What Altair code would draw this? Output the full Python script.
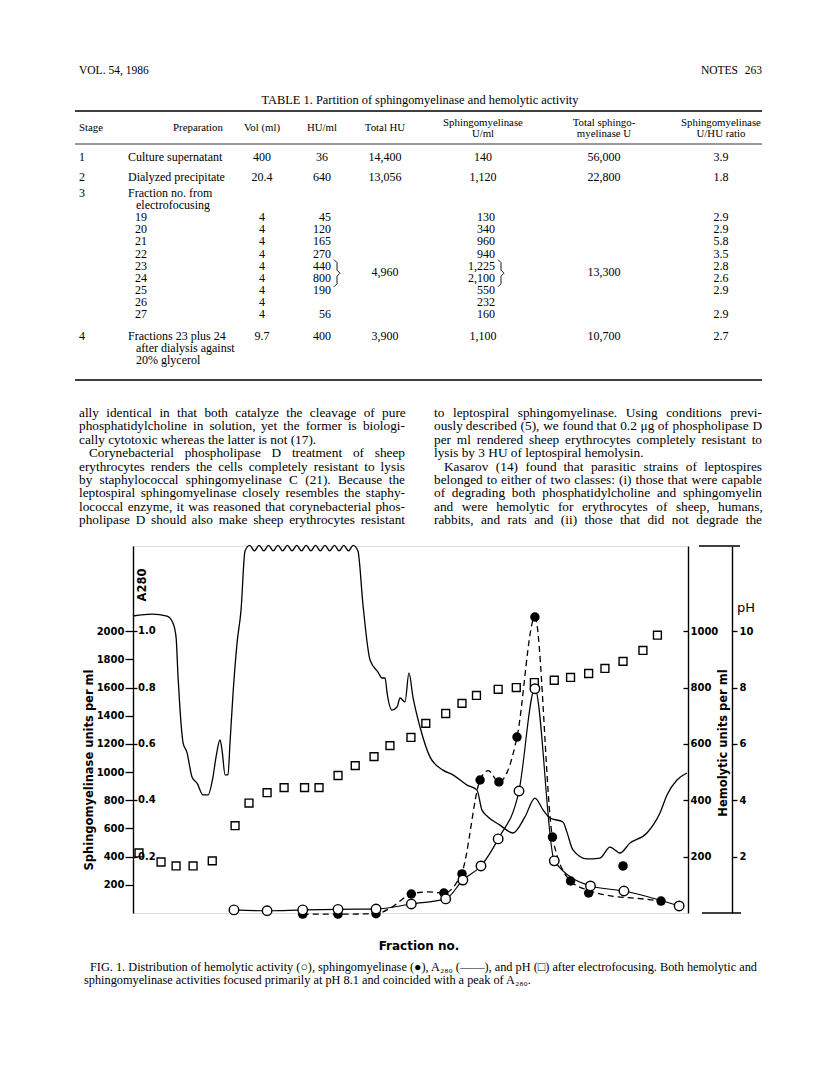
import altair as alt
import pandas as pd

# ---------------- figure data ----------------
ph_fraction = [2.05, 3.27, 4.1, 5.04, 6.1, 7.36, 8.13, 9.13, 10.07, 11.2, 12.0, 13.05, 14.0, 15.04, 15.92,
               17.08, 17.9, 19.0, 19.9, 20.7, 21.9, 22.9, 23.9, 25.0, 25.9, 26.9, 27.8, 28.8, 29.9, 30.7]
ph_value = [2.13, 1.81, 1.67, 1.67, 1.85, 3.1, 3.9, 4.27, 4.45, 4.45, 4.45, 4.88, 5.23, 5.55, 5.94,
            6.23, 6.73, 7.08, 7.44, 7.72, 7.94, 8.0, 8.18, 8.26, 8.36, 8.5, 8.68, 8.93, 9.32, 9.86]

sph_fraction = [11.1, 13.05, 15.15, 17.1, 18.9, 19.9, 20.9, 21.94, 22.94, 23.93, 24.9, 25.9, 26.9, 28.8, 30.9]
sph_value = [-8, -8, -5, 135, 142, 277, 944, 930, 1249, 2101, 539, 227, 142, 334, 85]

sph_curve_fraction = [11.1, 13.05, 15.15, 16.0, 17.1, 18.0, 18.9, 19.9, 20.9, 21.35, 21.94, 22.4, 22.94,
                      23.93, 24.9, 25.9, 26.9, 28.3, 29.5, 30.9]
sph_curve_value = [-8, -8, -5, 40, 135, 150, 142, 290, 944, 1010, 930, 1000, 1249,
                   2101, 539, 227, 160, 118, 105, 85]

hem_fraction = [7.3, 9.13, 11.1, 13.05, 15.15, 17.1, 19.0, 19.95, 20.95, 21.9, 23.05, 23.93, 25.0, 27.0, 28.85, 31.9]
hem_value = [11, 8, 11, 13, 14, 32, 50, 117, 167, 263, 433, 796, 185, 96, 78, 25]

a280_fraction = [1.72, 2.77, 3.60, 3.93, 4.10, 4.21, 4.32, 4.49, 4.71, 4.82, 4.98, 5.26, 5.59, 5.87, 6.14, 6.31,
                 6.53, 6.64, 6.81, 6.97, 7.08, 7.25, 7.47, 7.69,
                 7.91, 8.17, 8.43, 8.69, 8.95, 9.21, 9.47, 9.73, 9.99, 10.25, 10.51, 10.77, 11.03, 11.29,
                 11.55, 11.81, 12.07, 12.33, 12.59, 12.85, 13.11, 13.37, 13.63, 13.89, 14.15,
                 14.43, 14.82, 15.26, 15.48, 15.65, 15.76, 16.03, 16.31, 16.48, 16.75, 16.97, 17.19, 17.58,
                 18.13, 18.85, 19.40, 20.18, 20.73, 21.0, 21.34, 22.0, 22.72, 23.38, 23.93, 24.38, 24.76,
                 25.48, 25.70, 26.03, 26.81, 27.52, 28.08, 28.63, 29.18, 30.12, 30.84, 31.23, 31.78, 32.33]
a280_value = [1.054, 1.061, 1.054, 1.029, 0.979, 0.837, 0.720, 0.603, 0.568, 0.532, 0.483, 0.461, 0.419, 0.419,
              0.483, 0.554, 0.614, 0.578, 0.490, 0.490, 0.603, 0.781, 0.958, 1.075,
              1.285, 1.305, 1.285, 1.305, 1.285, 1.305, 1.285, 1.305, 1.285, 1.305, 1.285, 1.305, 1.285,
              1.305, 1.285, 1.305, 1.285, 1.305, 1.285, 1.305, 1.285, 1.305, 1.285, 1.305, 1.285,
              1.093, 0.898, 0.855, 0.834, 0.834, 0.781, 0.720, 0.731, 0.763, 0.749, 0.852, 0.767, 0.660,
              0.554, 0.507, 0.490, 0.454, 0.436, 0.366, 0.341, 0.312, 0.284, 0.341, 0.408, 0.366, 0.337,
              0.323, 0.287, 0.224, 0.192, 0.195, 0.234, 0.213, 0.248, 0.284, 0.355, 0.419, 0.472, 0.497]

x_ticks = [2, 4, 6, 8, 10, 12, 14, 16, 18, 20, 22, 24, 26, 28, 30, 32]
sph_ticks = [200, 400, 600, 800, 1000, 1200, 1400, 1600, 1800, 2000]
a280_ticks = [0.2, 0.4, 0.6, 0.8, 1.0]
a280_tick_labels = ["0.2", "0.4", "0.6", "0.8", "1.0"]
hem_ticks = [200, 400, 600, 800, 1000]
ph_ticks = [2, 4, 6, 8, 10]

# ---------------- page text ----------------
header_left = "VOL. 54, 1986"
header_right = ["NOTES", "263"]
table_title = "TABLE 1. Partition of sphingomyelinase and hemolytic activity"
col_headers = [["Stage"], ["Preparation"], ["Vol (ml)"], ["HU/ml"], ["Total HU"],
               ["Sphingomyelinase", "U/ml"], ["Total sphingo-", "myelinase U"], ["Sphingomyelinase", "U/HU ratio"]]
stage_labels = ["1", "2", "3", "4"]
prep_lines = [["Culture supernatant"], ["Dialyzed precipitate"], ["Fraction no. from", "electrofocusing"],
              ["Fractions 23 plus 24", "after dialysis against", "20% glycerol"]]
stage_vol = ["400", "20.4", "", "9.7"]
stage_hu = ["36", "640", "", "400"]
stage_total_hu = ["14,400", "13,056", "", "3,900"]
stage_sph = ["140", "1,120", "", "1,100"]
stage_total_sph = ["56,000", "22,800", "", "10,700"]
stage_ratio = ["3.9", "1.8", "", "2.7"]
frac_no = ["19", "20", "21", "22", "23", "24", "25", "26", "27"]
frac_vol = ["4", "4", "4", "4", "4", "4", "4", "4", "4"]
frac_hu = ["45", "120", "165", "270", "440", "800", "190", "", "56"]
frac_sph = ["130", "340", "960", "940", "1,225", "2,100", "550", "232", "160"]
frac_ratio = ["2.9", "2.9", "5.8", "3.5", "2.8", "2.6", "2.9", "", "2.9"]
pooled_total_hu = "4,960"
pooled_total_sph = "13,300"

left_col_lines = [
    "ally identical in that both catalyze the cleavage of pure",
    "phosphatidylcholine in solution, yet the former is biologi-",
    "cally cytotoxic whereas the latter is not (17).",
    "Corynebacterial phospholipase D treatment of sheep",
    "erythrocytes renders the cells completely resistant to lysis",
    "by staphylococcal sphingomyelinase C (21). Because the",
    "leptospiral sphingomyelinase closely resembles the staphy-",
    "lococcal enzyme, it was reasoned that corynebacterial phos-",
    "pholipase D should also make sheep erythrocytes resistant",
]
right_col_lines = [
    "to leptospiral sphingomyelinase. Using conditions previ-",
    "ously described (5), we found that 0.2 \u03bcg of phospholipase D",
    "per ml rendered sheep erythrocytes completely resistant to",
    "lysis by 3 HU of leptospiral hemolysin.",
    "Kasarov (14) found that parasitic strains of leptospires",
    "belonged to either of two classes: (i) those that were capable",
    "of degrading both phosphatidylcholine and sphingomyelin",
    "and were hemolytic for erythrocytes of sheep, humans,",
    "rabbits, and rats and (ii) those that did not degrade the",
]
caption_lines = [
    "FIG. 1. Distribution of hemolytic activity (\u25cb), sphingomyelinase (\u25cf), A\u2082\u2088\u2080 (\u2014\u2014), and pH (\u25a1) after electrofocusing. Both hemolytic and",
    "sphingomyelinase activities focused primarily at pH 8.1 and coincided with a peak of A\u2082\u2088\u2080.",
]
x_title = "Fraction no."
sph_title = "Sphingomyelinase units per ml"
hem_title = "Hemolytic units per ml"
a280_title = "A280"
ph_title = "pH"

# ---------------- layout ----------------
X0, Y0 = 133, 546          # page position of the plot origin
W, H = 555, 367
SERIF = "Liberation Serif"
SANS = "DejaVu Sans"

# Times-metric advance widths (1/1000 em), used only to justify the text columns
_W = {}
for chars, w in [(" ,.", 250), ("!()-[]`'IrfA", 333), ("/:;\\ijlt", 278), ("0123456789bdghnopquvxyk*_\u03bc", 500),
                 ("aceuz?", 444), ("s", 389), ("J", 389), ("m", 778), ("w", 722), ("%", 833),
                 ("BCR", 667), ("DGHKNOQUVXY", 722), ("ELTZ", 611), ("FPS", 556), ("M", 889), ("W", 944),
                 ("+<=>", 564), ("\"", 408), ("@", 921)]:
    for ch in chars:
        _W[ch] = w
_W["A"] = 722
_W["c"] = 444


def text_width(s, size):
    return sum(_W.get(ch, 500) for ch in s) / 1000.0 * size


def line_words(line, x_left, x_right, y, size, justify):
    words = line.split(" ")
    widths = [text_width(w, size) for w in words]
    gap = 0.25 * size
    if justify and len(words) > 1:
        gap = max((x_right - x_left - sum(widths)) / (len(words) - 1), 0.15 * size)
    rows, x = [], x_left
    for w, wd in zip(words, widths):
        rows.append((x, y, w))
        x += wd + gap
    return rows


xs = alt.Scale(domain=[1.72, 32.39], nice=False, zero=False)
ys = alt.Scale(domain=[0, 2605], nice=False, zero=False)


def axis_common(**kw):
    base = dict(grid=False, labelFont=SANS, labelFontWeight="bold", labelFontSize=10, labelColor="black",
                domainColor="black", tickColor="black", domainWidth=1.4, tickWidth=1.3, title=None,
                labelOverlap=False, labelFlush=False)
    base.update(kw)
    return alt.Axis(**base)


def text_layer(rows, font=SERIF, size=13, weight="normal", align="left", angle=0, style="normal"):
    df = pd.DataFrame(rows, columns=["x", "y", "t"])
    df["x"] = df["x"] - X0
    df["y"] = df["y"] - Y0
    return alt.Chart(df).mark_text(font=font, fontSize=size, fontWeight=weight, align=align,
                                   baseline="middle", angle=angle, fontStyle=style, color="black").encode(
        x=alt.X("x:Q", scale=None, axis=None), y=alt.Y("y:Q", scale=None, axis=None), text="t:N")


def rule_layer(rows, width):
    df = pd.DataFrame(rows, columns=["x", "x2", "y"])
    df["x"] = df["x"] - X0
    df["x2"] = df["x2"] - X0
    df["y"] = df["y"] - Y0
    return alt.Chart(df).mark_rule(color="black", strokeWidth=width).encode(
        x=alt.X("x:Q", scale=None, axis=None), x2="x2:Q", y=alt.Y("y:Q", scale=None, axis=None))


def brace_layer(specs):
    rows = []
    for gid, (x, top, bot) in enumerate(specs):
        mid = (top + bot) / 2
        pts = [(x, top), (x + 3, top + 3), (x + 3, mid - 3), (x + 6, mid), (x + 3, mid + 3),
               (x + 3, bot - 3), (x, bot)]
        for order, (px_, py_) in enumerate(pts):
            rows.append({"g": gid, "o": order, "x": px_ - X0, "y": py_ - Y0})
    df = pd.DataFrame(rows)
    return alt.Chart(df).mark_line(color="black", strokeWidth=0.9).encode(
        x=alt.X("x:Q", scale=None, axis=None), y=alt.Y("y:Q", scale=None, axis=None),
        detail="g:N", order="o:Q")


layers = []

# ---- figure: A280 trace (carries x axis and A280 inner ticks)
a280_df = pd.DataFrame({"f": a280_fraction, "v": a280_value})
layers.append(alt.Chart(a280_df).transform_calculate(s="datum.v * 2000").mark_line(
    color="black", strokeWidth=1.3, interpolate="monotone").encode(
    x=alt.X("f:Q", scale=xs, axis=axis_common(values=x_ticks, tickSize=5, labelPadding=3, format="d")),
    y=alt.Y("s:Q", scale=ys, axis=axis_common(orient="left", offset=-4, values=[v * 2000 for v in a280_ticks],
                                                tickSize=4, labels=False, domain=False))))

# ---- sphingomyelinase dashed curve (carries main left axis)
sc_df = pd.DataFrame({"f": sph_curve_fraction, "v": sph_curve_value})
layers.append(alt.Chart(sc_df).mark_line(color="black", strokeWidth=1.3, strokeDash=[6, 4],
                                         interpolate="monotone").encode(
    x=alt.X("f:Q", scale=xs, axis=None),
    y=alt.Y("v:Q", scale=ys, axis=axis_common(orient="left", values=sph_ticks, tickSize=8, labelPadding=1,
                                                format="d"))))

# ---- hemolytic solid curve (carries right hemolytic axis labels)
hem_df = pd.DataFrame({"f": hem_fraction, "v": hem_value})
layers.append(alt.Chart(hem_df).transform_calculate(s="datum.v * 2").mark_line(
    color="black", strokeWidth=1.2, interpolate="monotone").encode(
    x=alt.X("f:Q", scale=xs, axis=None),
    y=alt.Y("s:Q", scale=ys, axis=axis_common(orient="right", values=[v * 2 for v in hem_ticks],
                                                labelExpr="format(datum.value / 2, 'd')", ticks=False,
                                                labelPadding=2))))

# ---- pH squares (carries pH axis)
ph_df = pd.DataFrame({"f": ph_fraction, "v": ph_value})
layers.append(alt.Chart(ph_df).transform_calculate(s="datum.v * 200").mark_point(
    shape="square", size=62, filled=False, color="black", strokeWidth=1.4, opacity=1).encode(
    x=alt.X("f:Q", scale=xs, axis=None),
    y=alt.Y("s:Q", scale=ys, axis=axis_common(orient="right", offset=44, values=[v * 200 for v in ph_ticks],
                                                labelExpr="format(datum.value / 200, 'd')", tickSize=5,
                                                labelPadding=2))))

# ---- sphingomyelinase filled circles
sp_df = pd.DataFrame({"f": sph_fraction, "v": sph_value})
layers.append(alt.Chart(sp_df).mark_point(shape="circle", size=90, filled=True, color="black", opacity=1).encode(
    x=alt.X("f:Q", scale=xs, axis=None), y=alt.Y("v:Q", scale=ys, axis=None)))

# ---- hemolytic open circles (carries inner ticks of hemolytic axis)
layers.append(alt.Chart(hem_df).transform_calculate(s="datum.v * 2").mark_point(
    shape="circle", size=90, filled=True, fill="white", stroke="black", strokeWidth=1.4, opacity=1).encode(
    x=alt.X("f:Q", scale=xs, axis=None),
    y=alt.Y("s:Q", scale=ys, axis=axis_common(orient="right", offset=-5, values=[v * 2 for v in hem_ticks],
                                                tickSize=5, labels=False, domain=False))))

# ---- A280 tick labels inside the plot
a280_lab_df = pd.DataFrame({"v": a280_ticks, "t": a280_tick_labels})
layers.append(alt.Chart(a280_lab_df).transform_calculate(s="datum.v * 2000").mark_text(
    font=SANS, fontWeight="bold", fontSize=10, align="left", baseline="middle", color="black").encode(
    x=alt.value(5), y=alt.Y("s:Q", scale=ys, axis=None), text="t:N"))

# ---- pH axis caps
layers.append(rule_layer([(699, 740, Y0), (702, 741, Y0 + H)], 1.4))

# ---- figure titles
layers.append(text_layer([(419, 946, x_title)], font=SANS, size=12, weight="bold", align="center"))
layers.append(text_layer([(90, 770, sph_title), (724, 743, hem_title), (143, 585, a280_title)],
                         font=SANS, size=11.5, weight="bold", align="center", angle=270))
layers.append(text_layer([(737, 608, ph_title)], font=SANS, size=13, align="left"))

# ---- page header
layers.append(text_layer([(79, 71, header_left)], size=11.5))
layers.append(text_layer([(738, 71, header_right[0])], size=11.5, align="right"))
layers.append(text_layer([(762, 71, header_right[1])], size=11.5, align="right"))
layers.append(text_layer([(420, 100, table_title)], size=12.4, align="center"))

# ---- table rules
layers.append(rule_layer([(75, 762, 111), (75, 762, 380)], 1.6))
layers.append(rule_layer([(75, 762, 144)], 0.8))

# ---- table header
head_x = [79, 198, 262, 322, 385, 483, 604, 721]
head_rows_left, head_rows_center = [], []
for i, lines in enumerate(col_headers):
    ys_h = [128] if len(lines) == 1 else [122.5, 133.5]
    for yy, txt in zip(ys_h, lines):
        (head_rows_left if i == 0 else head_rows_center).append((head_x[i], yy, txt))
layers.append(text_layer(head_rows_left, size=10.8))
layers.append(text_layer(head_rows_center, size=10.8, align="center"))

# ---- table body
TS = 12
stage_y = [157, 177, 193, 336]
body_left, body_center, body_right = [], [], []
for i in range(4):
    y = stage_y[i]
    body_left.append((79, y, stage_labels[i]))
    for j, line in enumerate(prep_lines[i]):
        body_left.append((128 if j == 0 else 136, y + 12.1 * j, line))
    for x, val in [(262, stage_vol[i]), (322, stage_hu[i]), (385, stage_total_hu[i]), (483, stage_sph[i]),
                   (604, stage_total_sph[i]), (721, stage_ratio[i])]:
        if val:
            body_center.append((x, y, val))
frac_y = [217.2 + 12.1 * k for k in range(len(frac_no))]
for k in range(len(frac_no)):
    y = frac_y[k]
    body_left.append((135, y, frac_no[k]))
    body_center.append((262, y, frac_vol[k]))
    if frac_hu[k]:
        body_right.append((331, y, frac_hu[k]))
    if frac_sph[k]:
        body_right.append((495, y, frac_sph[k]))
    if frac_ratio[k]:
        body_center.append((721, y, frac_ratio[k]))
mid_y = (frac_y[4] + frac_y[5]) / 2
body_center.append((385, mid_y, pooled_total_hu))
body_center.append((604, mid_y, pooled_total_sph))
layers.append(text_layer(body_left, size=TS))
layers.append(text_layer(body_center, size=TS, align="center"))
layers.append(text_layer(body_right, size=TS, align="right"))
layers.append(brace_layer([(334, frac_y[4] - 6, frac_y[6] - 3), (498, frac_y[4] - 6, frac_y[6] - 3)]))

# ---- body paragraphs (justified word by word)
BS = 13.3
indent_l = [0, 0, 0, 10, 0, 0, 0, 0, 0]
indent_r = [0, 0, 0, 0, 10, 0, 0, 0, 0]
last_l = [False, False, True, False, False, False, False, False, False]
last_r = [False, False, False, True, False, False, False, False, False]
par_rows = []
for k, line in enumerate(left_col_lines):
    par_rows += line_words(line, 79 + indent_l[k], 405, 413 + 13.4 * k, BS, not last_l[k])
for k, line in enumerate(right_col_lines):
    par_rows += line_words(line, 434 + indent_r[k], 762, 413 + 13.4 * k, BS, not last_r[k])
layers.append(text_layer(par_rows, size=BS))

# ---- caption
layers.append(text_layer([(90, 967, caption_lines[0]), (84, 980, caption_lines[1])], size=12.3))

chart = alt.layer(*layers).resolve_scale(y="shared").resolve_axis(y="independent").properties(
    width=W, height=H,
    autosize=alt.AutoSizeParams(type="none"),
    padding={"left": X0 - 8, "top": Y0 - 8, "right": 816 - 16 - (X0 - 8) - W, "bottom": 1081 - 16 - (Y0 - 8) - H},
).configure_view(stroke=None).configure(background="white")

chart.save("out.html", embed_options={"renderer": "svg", "actions": False})
